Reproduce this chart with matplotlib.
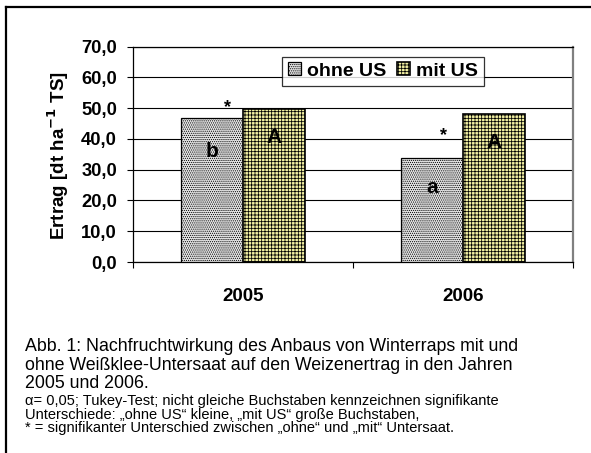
import matplotlib
matplotlib.use("Agg")
import matplotlib.pyplot as plt
from matplotlib.lines import Line2D
import numpy as np

years = ["2005", "2006"]
ohne_us = [46.7, 33.7]
mit_us = [49.7, 48.0]
series_names = ["ohne US", "mit US"]
letters_ohne = ["b", "a"]
letters_mit = ["A", "A"]
letters_ohne_y = [34.1, 22.4]
letters_mit_y = [38.6, 37.0]
star_x = [-0.07, 0.91]
star_y = [48.7, 39.6]
yticks = [0, 10, 20, 30, 40, 50, 60, 70]
ytick_labels = ["0,0", "10,0", "20,0", "30,0", "40,0", "50,0", "60,0", "70,0"]
caption_big = [
    "Abb. 1: Nachfruchtwirkung des Anbaus von Winterraps mit und",
    "ohne Weißklee-Untersaat auf den Weizenertrag in den Jahren",
    "2005 und 2006.",
]
caption_small = [
    "α= 0,05; Tukey-Test; nicht gleiche Buchstaben kennzeichnen signifikante",
    "Unterschiede: „ohne US“ kleine, „mit US“ große Buchstaben,",
    "* = signifikanter Unterschied zwischen „ohne“ und „mit“ Untersaat.",
]

plt.rcParams['font.family'] = ['Liberation Sans', 'DejaVu Sans']
plt.rcParams['hatch.linewidth'] = 0.55

W, H = 591, 453
fig = plt.figure(figsize=(W / 100, H / 100), dpi=100)
ax = fig.add_axes([133 / W, 1 - 262 / H, 440 / W, (262 - 46.5) / H])

x = np.arange(len(years))
bw = 0.281
b1 = ax.bar(x - bw / 2, ohne_us, bw, facecolor='#e4e4e4', edgecolor='black',
            hatch='........', linewidth=0.9, label=series_names[0], zorder=3)
b2 = ax.bar(x + bw / 2, mit_us, bw, facecolor='#f2f0a2', edgecolor='black',
            hatch='+++++', linewidth=1.2, label=series_names[1], zorder=3)

ax.set_xlim(-0.5, 1.5)
ax.set_ylim(0, 70)
ax.set_yticks(yticks)
ax.set_yticklabels(ytick_labels, fontsize=13.2, fontweight='bold')
ax.yaxis.grid(True, color='black', linewidth=0.8, zorder=0)
ax.set_axisbelow(True)
ax.tick_params(axis='y', length=4.5, width=0.8, pad=7, direction='out')

ax.set_xticks(x)
ax.set_xticklabels(years, fontsize=13.5, fontweight='bold')
ax.tick_params(axis='x', which='major', length=0, pad=19)
ax.set_xticks([-0.5, 0.5, 1.5], minor=True)
ax.tick_params(axis='x', which='minor', length=4.5, width=0.8, direction='out')

for s in ['left', 'bottom', 'top']:
    ax.spines[s].set_color('black')
    ax.spines[s].set_linewidth(0.9)
ax.spines['right'].set_color('#808080')
ax.spines['right'].set_linewidth(1.6)

ax.set_ylabel("Ertrag [dt ha$^{\\mathbf{-1}}$ TS]", fontsize=13.5, fontweight='bold')
ax.yaxis.set_label_coords(-0.141, 0.492)

for i in range(len(years)):
    ax.text(x[i] - bw / 2, letters_ohne_y[i], letters_ohne[i], ha='center', va='baseline',
            fontsize=15, fontweight='bold', zorder=5)
    ax.text(x[i] + bw / 2, letters_mit_y[i], letters_mit[i], ha='center', va='baseline',
            fontsize=15, fontweight='bold', zorder=5)
    ax.text(star_x[i], star_y[i], "*", ha='center', va='baseline',
            fontsize=13, fontweight='bold', zorder=5)

leg = ax.legend(loc='center', bbox_to_anchor=(0.568, 0.886), ncol=2,
                prop={'size': 14, 'weight': 'bold'}, frameon=True, fancybox=False,
                edgecolor='black', handlelength=0.65, handleheight=0.65,
                handletextpad=0.3, columnspacing=0.6, borderpad=0.3,
                borderaxespad=0)
leg.get_frame().set_linewidth(0.9)
leg.set_zorder(6)

# outer frame (top and left visible)
fig.add_artist(Line2D([6 / W, 1.0], [1 - 7 / H, 1 - 7 / H], color='black', linewidth=1.6,
                      transform=fig.transFigure))
fig.add_artist(Line2D([6 / W, 6 / W], [1 - 7 / H, 0.0], color='black', linewidth=1.6,
                      transform=fig.transFigure))

for line, yb in zip(caption_big, [351, 369.5, 388]):
    fig.text(25 / W, 1 - yb / H, line, fontsize=12.8, va='baseline', ha='left')
for line, yb in zip(caption_small, [405, 418.5, 432]):
    fig.text(25 / W, 1 - yb / H, line, fontsize=10.5, va='baseline', ha='left')

fig.savefig("out.png", dpi=100)
